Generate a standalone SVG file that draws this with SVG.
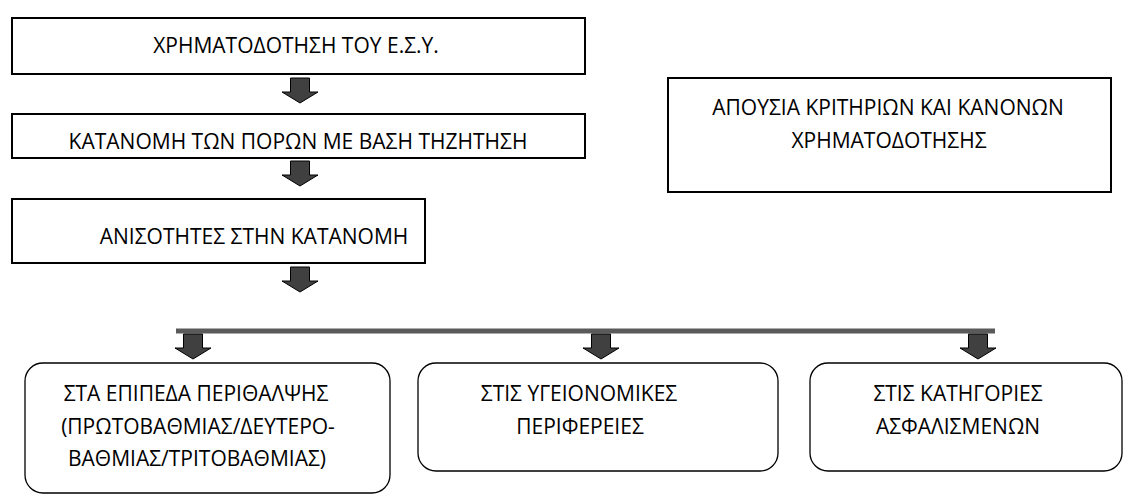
<svg xmlns="http://www.w3.org/2000/svg" width="1135" height="496" viewBox="0 0 1135 496">
<style>
.box{fill:#fff;stroke:#000;stroke-width:2}
.rbox{fill:#fff;stroke:#000;stroke-width:1.3}
.t{font-family:"Open Sans","Liberation Sans",sans-serif;font-size:21px;fill:#000;text-anchor:middle}
.arr{fill:#404040;stroke:#000;stroke-width:1}
.bar{stroke:#5a5a5a;stroke-width:5}
</style>
<defs>
<path id="ar" d="M-9.5,0 H9.5 V14 H18 L0,25 L-18,14 H-9.5 Z"/>
</defs>
<g id="n1"><rect class="box" x="12" y="18" width="573" height="56"/><text class="t" x="296" y="53">ΧΡΗΜΑΤΟΔΟΤΗΣΗ ΤΟΥ Ε.Σ.Υ.</text></g>
<g id="n2"><rect class="box" x="12" y="114" width="573" height="44"/><text class="t" x="298" y="149">ΚΑΤΑΝΟΜΗ ΤΩΝ ΠΟΡΩΝ ΜΕ ΒΑΣΗ ΤΗΖΗΤΗΣΗ</text></g>
<g id="n3"><rect class="box" x="12" y="199" width="413" height="64"/><text class="t" x="254" y="244">ΑΝΙΣΟΤΗΤΕΣ ΣΤΗΝ ΚΑΤΑΝΟΜΗ</text></g>
<g id="n4"><rect class="box" x="668" y="78" width="443" height="114"/><text class="t" x="888" y="115">ΑΠΟΥΣΙΑ ΚΡΙΤΗΡΙΩΝ ΚΑΙ ΚΑΝΟΝΩΝ</text><text class="t" x="889" y="148">ΧΡΗΜΑΤΟΔΟΤΗΣΗΣ</text></g>
<g id="n5"><rect class="rbox" x="25" y="363" width="365" height="130" rx="18"/><text class="t" x="196" y="401">ΣΤΑ ΕΠΙΠΕΔΑ ΠΕΡΙΘΑΛΨΗΣ</text><text class="t" x="198" y="434">(ΠΡΩΤΟΒΑΘΜΙΑΣ/ΔΕΥΤΕΡΟ-</text><text class="t" x="197" y="466">ΒΑΘΜΙΑΣ/ΤΡΙΤΟΒΑΘΜΙΑΣ)</text></g>
<g id="n6"><rect class="rbox" x="418" y="363" width="360" height="108" rx="18"/><text class="t" x="579" y="401">ΣΤΙΣ ΥΓΕΙΟΝΟΜΙΚΕΣ</text><text class="t" x="580" y="434">ΠΕΡΙΦΕΡΕΙΕΣ</text></g>
<g id="n7"><rect class="rbox" x="810" y="363" width="312" height="108" rx="18"/><text class="t" x="958" y="401">ΣΤΙΣ ΚΑΤΗΓΟΡΙΕΣ</text><text class="t" x="958" y="434">ΑΣΦΑΛΙΣΜΕΝΩΝ</text></g>
<g id="connectors">
<use href="#ar" class="arr" x="300" y="78"/>
<use href="#ar" class="arr" x="300" y="161"/>
<use href="#ar" class="arr" x="300" y="267"/>
<line class="bar" x1="176" y1="331" x2="995" y2="331"/>
<use href="#ar" class="arr" x="193" y="334"/>
<use href="#ar" class="arr" x="601" y="334"/>
<use href="#ar" class="arr" x="978" y="334"/>
</g>
</svg>
